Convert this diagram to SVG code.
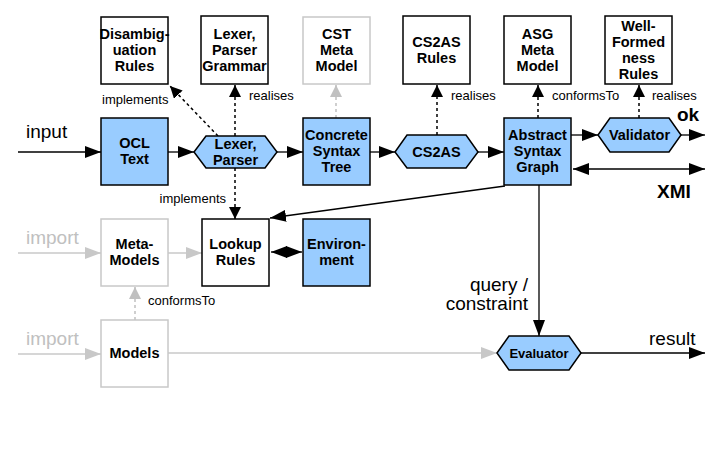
<svg xmlns="http://www.w3.org/2000/svg" width="723" height="454" viewBox="0 0 723 454">
<style>
text{font-family:"Liberation Sans",Arial,sans-serif;}
.n{fill:#fff;stroke:#000;stroke-width:1.5}
.b{fill:#99ccff;stroke:#000;stroke-width:1.5}
.g{fill:#fff;stroke:#c8c8c8;stroke-width:1.5}
.t{font-size:14.5px;font-weight:bold;text-anchor:middle;fill:#000}
.l{font-size:13px;fill:#000}
.big{font-size:19px;fill:#000}
.gl{font-size:19px;fill:#c0c0c0}
.c{fill:none;stroke:#000;stroke-width:1.3}
.cg{fill:none;stroke:#c8c8c8;stroke-width:1.3}
.d{fill:none;stroke:#000;stroke-width:1.5;stroke-dasharray:3,3}
.dg{fill:none;stroke:#c0c0c0;stroke-width:1.5;stroke-dasharray:3,3}
</style>
<defs>
<marker id="a" markerWidth="16" markerHeight="12" refX="16" refY="6" orient="auto" markerUnits="userSpaceOnUse"><path d="M0,0 L16,6 L0,12 Z" fill="#000"/></marker>
<marker id="as" markerWidth="16" markerHeight="12" refX="0" refY="6" orient="auto" markerUnits="userSpaceOnUse"><path d="M16,0 L0,6 L16,12 Z" fill="#000"/></marker>
<marker id="ag" markerWidth="16" markerHeight="12" refX="16" refY="6" orient="auto" markerUnits="userSpaceOnUse"><path d="M0,0 L16,6 L0,12 Z" fill="#c8c8c8"/></marker>
<marker id="ad" markerWidth="12" markerHeight="12" refX="12" refY="6" orient="auto" markerUnits="userSpaceOnUse"><path d="M0,0 L12,6 L0,12 Z" fill="#000"/></marker>
<marker id="adg" markerWidth="12" markerHeight="12" refX="12" refY="6" orient="auto" markerUnits="userSpaceOnUse"><path d="M0,0 L12,6 L0,12 Z" fill="#c0c0c0"/></marker>
</defs>

<g id="connectors">
<line class="c" x1="18" y1="152" x2="101" y2="152" marker-end="url(#a)"/>
<line class="c" x1="168" y1="152" x2="194" y2="152" marker-end="url(#a)"/>
<line class="c" x1="277" y1="152" x2="303" y2="152" marker-end="url(#a)"/>
<line class="c" x1="370" y1="152" x2="395" y2="152" marker-end="url(#a)"/>
<line class="c" x1="478" y1="152" x2="504" y2="152" marker-end="url(#a)"/>
<line class="c" x1="571" y1="135" x2="598" y2="135" marker-end="url(#a)"/>
<line class="c" x1="681" y1="135" x2="705" y2="135" marker-end="url(#a)"/>
<line class="c" x1="573" y1="169" x2="705" y2="169" marker-start="url(#as)" marker-end="url(#a)"/>
<line class="c" x1="505" y1="186" x2="270" y2="218" marker-end="url(#a)"/>
<line class="c" x1="539" y1="185" x2="539" y2="336" marker-end="url(#a)"/>
<line class="c" x1="581" y1="353" x2="705" y2="353" marker-end="url(#a)"/>
<line class="c" x1="271" y1="252" x2="302" y2="252" marker-start="url(#as)" marker-end="url(#a)"/>
<line class="cg" x1="168" y1="353" x2="497" y2="353" marker-end="url(#ag)"/>
<line class="cg" x1="18" y1="253" x2="101" y2="253" marker-end="url(#ag)"/>
<line class="cg" x1="18" y1="354" x2="101" y2="354" marker-end="url(#ag)"/>
<line class="cg" x1="168" y1="253" x2="202" y2="253" marker-end="url(#ag)"/>
<line class="dg" x1="135" y1="320" x2="135" y2="287" marker-end="url(#adg)"/>
<line class="d" x1="218" y1="136" x2="170" y2="86" marker-end="url(#ad)"/>
<line class="d" x1="235" y1="136" x2="235" y2="85" marker-end="url(#ad)"/>
<line class="dg" x1="336" y1="118" x2="336" y2="85" marker-end="url(#adg)"/>
<line class="d" x1="437" y1="135" x2="437" y2="85" marker-end="url(#ad)"/>
<line class="d" x1="538" y1="118" x2="538" y2="85" marker-end="url(#ad)"/>
<line class="d" x1="639" y1="118" x2="639" y2="85" marker-end="url(#ad)"/>
<line class="d" x1="235" y1="168" x2="235" y2="219" marker-end="url(#ad)"/>
<text class="big" x="26" y="138">input</text>
<text class="gl" x="26" y="244">import</text>
<text class="gl" x="26" y="345">import</text>
<text class="big" x="677" y="121" font-weight="bold">ok</text>
<text class="big" x="657" y="198" font-weight="bold">XMI</text>
<text class="big" x="649" y="345">result</text>
<text class="big" x="528" y="291" text-anchor="end">query /</text>
<text class="big" x="528" y="310" text-anchor="end">constraint</text>
<text class="l" x="102" y="104">implements</text>
<text class="l" x="249" y="100">realises</text>
<text class="l" x="451" y="100">realises</text>
<text class="l" x="552" y="100">conformsTo</text>
<text class="l" x="652" y="100">realises</text>
<text class="l" x="226" y="203" text-anchor="end">implements</text>
<text class="l" x="148" y="305">conformsTo</text>
</g>

<g id="disamb"><rect class="n" x="101" y="17" width="67" height="67"/><text class="t" x="134.5" y="39">Disambig-</text><text class="t" x="134.5" y="55">uation</text><text class="t" x="134.5" y="71">Rules</text></g>
<g id="grammar"><rect class="n" x="201" y="16" width="67" height="68"/><text class="t" x="234.5" y="39">Lexer,</text><text class="t" x="234.5" y="55">Parser</text><text class="t" x="234.5" y="71">Grammar</text></g>
<g id="cstmeta"><rect class="g" x="303" y="17" width="67" height="67"/><text class="t" x="336.5" y="39">CST</text><text class="t" x="336.5" y="55">Meta</text><text class="t" x="336.5" y="71">Model</text></g>
<g id="cs2asrules"><rect class="n" x="403" y="16" width="67" height="68"/><text class="t" x="436.5" y="47">CS2AS</text><text class="t" x="436.5" y="63">Rules</text></g>
<g id="asgmeta"><rect class="n" x="504" y="16" width="67" height="68"/><text class="t" x="537.5" y="39">ASG</text><text class="t" x="537.5" y="55">Meta</text><text class="t" x="537.5" y="71">Model</text></g>
<g id="wfr"><rect class="n" x="605" y="16" width="67" height="68"/><text class="t" x="638.5" y="31">Well-</text><text class="t" x="638.5" y="47">Formed</text><text class="t" x="638.5" y="63">ness</text><text class="t" x="638.5" y="79">Rules</text></g>

<g id="ocltext"><rect class="b" x="101" y="118" width="67" height="67"/><text class="t" x="134.5" y="148">OCL</text><text class="t" x="134.5" y="164">Text</text></g>
<g id="lexer"><polygon class="b" points="194,152 206,136 265,136 277,152 265,168 206,168"/><text class="t" x="235.5" y="149">Lexer,</text><text class="t" x="235.5" y="165">Parser</text></g>
<g id="cst"><rect class="b" x="303" y="118" width="67" height="67"/><text class="t" x="336.5" y="140">Concrete</text><text class="t" x="336.5" y="156">Syntax</text><text class="t" x="336.5" y="172">Tree</text></g>
<g id="cs2as"><polygon class="b" points="395,152 407,135 466,135 478,152 466,168 407,168"/><text class="t" x="436.5" y="157">CS2AS</text></g>
<g id="asg"><rect class="b" x="504" y="118" width="67" height="67"/><text class="t" x="537.5" y="140">Abstract</text><text class="t" x="537.5" y="156">Syntax</text><text class="t" x="537.5" y="172">Graph</text></g>
<g id="validator"><polygon class="b" points="598,135 610,118 669,118 681,135 669,152 610,152"/><text class="t" x="639.5" y="140">Validator</text></g>

<g id="metamodels"><rect class="g" x="101" y="219" width="67" height="67"/><text class="t" x="134.5" y="249">Meta-</text><text class="t" x="134.5" y="265">Models</text></g>
<g id="lookup"><rect class="n" x="202" y="219" width="67" height="67"/><text class="t" x="235.5" y="249">Lookup</text><text class="t" x="235.5" y="265">Rules</text></g>
<g id="environment"><rect class="b" x="303" y="219" width="67" height="67"/><text class="t" x="336.5" y="249">Environ-</text><text class="t" x="336.5" y="265">ment</text></g>
<g id="models"><rect class="g" x="101" y="320" width="67" height="67"/><text class="t" x="134.5" y="358">Models</text></g>
<g id="evaluator"><polygon class="b" points="497,353 509,336 569,336 581,353 569,370 509,370"/><text class="t" x="539" y="358" style="font-size:13px">Evaluator</text></g>
</svg>
